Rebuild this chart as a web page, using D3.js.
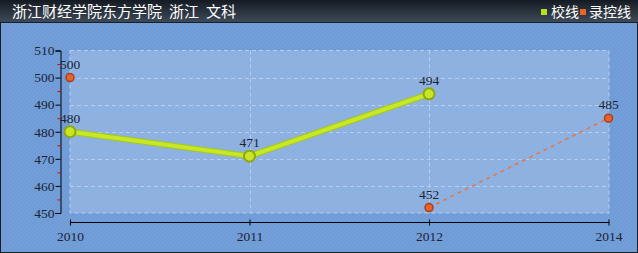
<!DOCTYPE html>
<html><head><meta charset="utf-8">
<script src="https://cdn.jsdelivr.net/npm/d3@7"></script>
<style>body{margin:0;padding:0;overflow:hidden}svg{display:block}</style>
</head><body>
<script>
const titleParts = ["浙江财经学院东方学院","浙江","文科"];
const years = ["2010","2011","2012","2014"];
const schoolLine = [480, 471, 494, null];
const controlLine = [500, null, 452, 485];
const yTicks = [450,460,470,480,490,500,510];
const yMinor = [455,465,475,485,495,505];
const legendNames = ["校线","录控线"];
const legendColors = ["#b6e01e","#e8622a"];

const W=638,H=253;
const svg=d3.select("body").append("svg").attr("width",W).attr("height",H);
const defs=svg.append("defs");
const pat=defs.append("pattern").attr("id","hatch").attr("patternUnits","userSpaceOnUse").attr("width",4).attr("height",4);
pat.append("rect").attr("width",4).attr("height",4).attr("fill","#729ed9");
pat.append("path").attr("d","M0,4 L4,0 M-1,1 L1,-1 M3,5 L5,3").attr("stroke","#6c97d0").attr("stroke-width",0.8);
const tg=defs.append("linearGradient").attr("id","tbar").attr("x1",0).attr("y1",0).attr("x2",0).attr("y2",1);
tg.append("stop").attr("offset","0").attr("stop-color","#141a22");
tg.append("stop").attr("offset","1").attr("stop-color","#3e4a58");

svg.append("rect").attr("x",0).attr("y",0).attr("width",W).attr("height",H).attr("fill","url(#hatch)");
svg.append("rect").attr("x",0).attr("y",0).attr("width",W).attr("height",22).attr("fill","url(#tbar)");
svg.append("rect").attr("x",0.5).attr("y",22.5).attr("width",W-1).attr("height",H-23).attr("fill","none").attr("stroke","#1a1f26").attr("stroke-width",1);

const tt=svg.append("text").attr("x",12).attr("y",17).attr("fill","#fff").attr("font-family","Noto Sans CJK SC").attr("font-size",15);
titleParts.forEach((p,i)=>tt.append("tspan").attr("dx",i?7:0).text(p));

// legend
const lg=svg.append("g");
lg.append("rect").attr("x",541).attr("y",9).attr("width",6).attr("height",6).attr("fill",legendColors[0]);
lg.append("text").attr("x",551).attr("y",17).attr("fill","#fff").attr("font-family","Noto Sans CJK SC").attr("font-size",14).text(legendNames[0]);
lg.append("rect").attr("x",580).attr("y",9).attr("width",6).attr("height",6).attr("fill",legendColors[1]);
lg.append("text").attr("x",589).attr("y",17).attr("fill","#fff").attr("font-family","Noto Sans CJK SC").attr("font-size",14).text(legendNames[1]);

const x=d3.scalePoint().domain(years).range([70,608.5]);
const y=d3.scaleLinear().domain([450,510]).range([213,50.5]);

// plot area
svg.append("rect").attr("x",70).attr("y",50.5).attr("width",539).attr("height",162.5)
  .attr("fill","#c4d8f4").attr("fill-opacity",0.35).attr("stroke","#b8cdee").attr("stroke-dasharray","4,3").attr("stroke-width",1);
const grid=svg.append("g").attr("stroke","#b8cdee").attr("stroke-dasharray","4,3").attr("stroke-width",1);
yTicks.slice(1,-1).forEach(v=>grid.append("line").attr("x1",70).attr("x2",609).attr("y1",Math.round(y(v))+0.5).attr("y2",Math.round(y(v))+0.5));
years.slice(1,-1).forEach(v=>grid.append("line").attr("x1",Math.round(x(v))+0.5).attr("x2",Math.round(x(v))+0.5).attr("y1",50.5).attr("y2",213));

const font="Liberation Serif";
// y axis
const ya=svg.append("g").attr("transform","translate(60.5,0)")
 .call(d3.axisLeft(y).tickValues(yTicks).tickSize(5).tickPadding(1).tickFormat(d3.format("d")));
ya.select(".domain").attr("stroke","#000");
ya.selectAll(".tick line").attr("stroke","#000");
ya.selectAll("text").attr("font-family",font).attr("font-size",13.5).attr("fill","#1c2433");
const ym=svg.append("g").attr("transform","translate(60.5,0)")
 .call(d3.axisLeft(y).tickValues(yMinor).tickSize(3).tickFormat(""));
ym.select(".domain").remove();
ym.selectAll(".tick line").attr("stroke","#e00000");

// x axis
const xa=svg.append("g").attr("transform","translate(0,222.5)")
 .call(d3.axisBottom(x).tickSizeInner(0).tickSizeOuter(0).tickPadding(6));
xa.select(".domain").attr("stroke","#000").attr("d","M70,0H609");
xa.selectAll(".tick").append("line").attr("y1",-3).attr("y2",3).attr("stroke","#000");
xa.selectAll("text").attr("font-family",font).attr("font-size",13.5).attr("fill","#1c2433").attr("dy","0.9em");

// lines
const line=d3.line().defined(d=>d.v!=null).x(d=>x(d.k)).y(d=>y(d.v));
const sData=years.map((k,i)=>({k,v:schoolLine[i]}));
const cData=years.map((k,i)=>({k,v:controlLine[i]}));
svg.append("path").datum(sData).attr("d",line).attr("fill","none").attr("stroke","#a8c818").attr("stroke-width",6).attr("stroke-linejoin","round");
svg.append("path").datum(sData).attr("d",line).attr("fill","none").attr("stroke","#c6e826").attr("stroke-width",4).attr("stroke-linejoin","round");
svg.append("path").datum(cData).attr("d",line).attr("fill","none").attr("stroke","#e07850").attr("stroke-width",1.6).attr("stroke-dasharray","4,4");

// markers
svg.selectAll(".sm").data(sData.filter(d=>d.v!=null)).join("circle").attr("cx",d=>x(d.k)).attr("cy",d=>y(d.v)).attr("r",5.5)
  .attr("fill","#c8e626").attr("stroke","#8ea814").attr("stroke-width",2);
svg.selectAll(".cm").data(cData.filter(d=>d.v!=null)).join("circle").attr("cx",d=>x(d.k)).attr("cy",d=>y(d.v)).attr("r",4)
  .attr("fill","#e8622a").attr("stroke","#a8401c").attr("stroke-width",1.5);

// labels
const lab=(data)=>svg.append("g").selectAll("text").data(data.filter(d=>d.v!=null)).join("text")
  .attr("x",d=>x(d.k)).attr("y",d=>y(d.v)-9).attr("text-anchor",d=>"middle")
  .attr("font-family",font).attr("font-size",13.5).attr("fill","#1c2433").text(d=>d.v);
lab(sData); lab(cData);
</script>
</body></html>
